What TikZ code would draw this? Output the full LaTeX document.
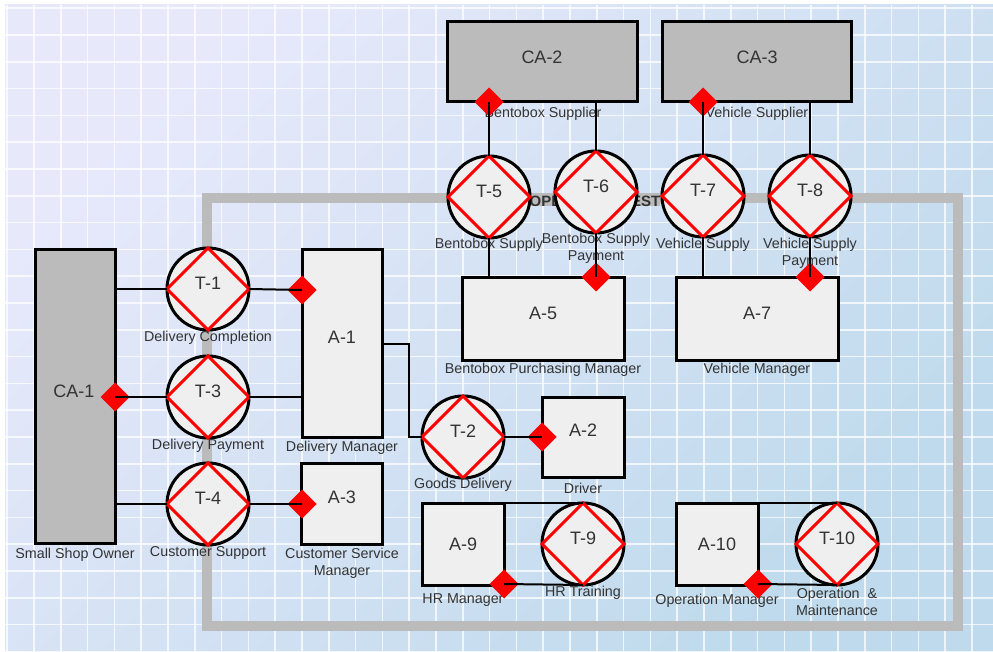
\documentclass[tikz,border=0pt]{standalone}
\usepackage{fontspec}
\setmainfont{Liberation Sans}
\usetikzlibrary{shapes.geometric}
\definecolor{bgA}{RGB}{231,233,251}
\definecolor{bgB}{RGB}{190,218,236}
\definecolor{boxfill}{RGB}{239,239,239}
\definecolor{cafill}{RGB}{187,187,187}
\definecolor{bordcol}{RGB}{187,187,187}
\definecolor{txt}{RGB}{51,51,51}
\definecolor{mkred}{RGB}{255,0,0}
\newcommand\Tc[4]{%
  \node[tcirc] (#1) at (#2,#3) {};
  \draw[rdia] (#1.north) -- (#1.east) -- (#1.south) -- (#1.west) -- cycle;
  \node[ntext] (#1-t) at (#2,#3-6) {#4};
}
\begin{document}
\begin{tikzpicture}[x=1pt,y=-1pt,
  entbox/.style={rectangle, draw=black, line width=3pt, fill=boxfill, inner sep=0pt, outer sep=0pt},
  cabox/.style={entbox, fill=cafill},
  tcirc/.style={circle, draw=black, line width=3pt, fill=boxfill, minimum size=82pt, inner sep=0pt, outer sep=0pt},
  rdia/.style={draw=mkred, line width=3pt, line join=miter},
  reddia/.style={diamond, fill=mkred, minimum width=29pt, minimum height=29pt, inner sep=0pt, outer sep=0pt},
  ntext/.style={text=txt, font=\fontsize{18}{20}\selectfont, inner sep=0pt},
  sub/.style={text=txt, font=\fontsize{14.3}{17}\selectfont, align=center, inner sep=0pt},
  conn/.style={draw=black, line width=2pt},
  gridln/.style={draw=white, line width=1.6pt, opacity=0.75},
  bordline/.style={draw=bordcol, line width=10pt},
]
\useasboundingbox (0,0) rectangle (993,652);
\fill[white] (0,0) rectangle (993,652);
\shade[top color=bgA, bottom color=bgB, shading angle=45] (5,5) rectangle (993,652);
\foreach \i in {0,...,36} \draw[gridln] ({7.2+26.8*\i},5) -- ({7.2+26.8*\i},652);
\foreach \j in {0,...,24} \draw[gridln] (5,{8.2+26.8*\j}) -- (993,{8.2+26.8*\j});

% boundary
\draw[bordline] (207,198) rectangle (958,626);
\node[text=txt, font=\bfseries\fontsize{15}{16}\selectfont, fill=bordcol, inner sep=0pt] (blabel) at (595,201) {OPERATION TEST};

% boxes
\node[cabox, minimum width=80pt, minimum height=293pt] (ca1) at (75,396.5) {};
\node[ntext] (ca1-t) at (74,391) {CA-1};
\node[cabox, minimum width=190pt, minimum height=80pt] (ca2) at (542,62) {};
\node[ntext] (ca2-t) at (542,57) {CA-2};
\node[cabox, minimum width=189pt, minimum height=80pt] (ca3) at (756.5,62) {};
\node[ntext] (ca3-t) at (757,57) {CA-3};
\node[entbox, minimum width=80pt, minimum height=187pt] (a1) at (342,343.5) {};
\node[ntext] (a1-t) at (342,337) {A-1};
\node[entbox, minimum width=82pt, minimum height=80pt] (a2) at (583,437) {};
\node[ntext] (a2-t) at (583,430) {A-2};
\node[entbox, minimum width=81pt, minimum height=81pt] (a3) at (342,504) {};
\node[ntext] (a3-t) at (342,497) {A-3};
\node[entbox, minimum width=162pt, minimum height=82pt] (a5) at (543,319) {};
\node[ntext] (a5-t) at (543,313) {A-5};
\node[entbox, minimum width=162pt, minimum height=82pt] (a7) at (757,319) {};
\node[ntext] (a7-t) at (757,313) {A-7};
\node[entbox, minimum width=82pt, minimum height=82pt] (a9) at (463,544) {};
\node[ntext] (a9-t) at (463,544) {A-9};
\node[entbox, minimum width=82pt, minimum height=82pt] (a10) at (717,544) {};
\node[ntext] (a10-t) at (717,544) {A-10};

% transaction circles
\Tc{t1}{208}{289}{T-1}
\Tc{t3}{208}{397}{T-3}
\Tc{t4}{208}{504}{T-4}
\Tc{t2}{463}{437}{T-2}
\Tc{t5}{489}{197}{T-5}
\Tc{t6}{596}{192}{T-6}
\Tc{t7}{703}{196}{T-7}
\Tc{t8}{810}{196}{T-8}
\Tc{t9}{583}{544}{T-9}
\Tc{t10}{837}{544}{T-10}

% sub labels
\node[sub] (l-ca1) at (75,555) {Small Shop Owner};
\node[sub] (l-t1) at (208,338) {Delivery Completion};
\node[sub] (l-t3) at (208,446) {Delivery Payment};
\node[sub] (l-t4) at (208,553) {Customer Support};
\node[sub] (l-a1) at (342,448) {Delivery Manager};
\node[sub] (l-a3) at (342,563.5) {Customer Service\\Manager};
\node[sub] (l-t2) at (463,485) {Goods Delivery};
\node[sub] (l-a2) at (583,488) {Driver};
\node[sub] (l-ca2) at (543,114) {Bentobox Supplier};
\node[sub] (l-ca3) at (757,114) {Vehicle Supplier};
\node[sub] (l-t5) at (489,245) {Bentobox Supply};
\node[sub] (l-t6) at (596,248.5) {Bentobox Supply\\Payment};
\node[sub] (l-t7) at (703,245) {Vehicle Supply};
\node[sub] (l-t8) at (810,253.5) {Vehicle Supply\\Payment};
\node[sub] (l-a5) at (543,370) {Bentobox Purchasing Manager};
\node[sub] (l-a7) at (757,370) {Vehicle Manager};
\node[sub] (l-a9) at (463,600) {HR Manager};
\node[sub] (l-t9) at (583,593) {HR Training};
\node[sub] (l-a10) at (717,601) {Operation Manager};
\node[sub] (l-t10) at (837,601.5) {Operation~~\&\\Maintenance};

% red markers
\node[reddia] (d-ca1) at (115,397) {};
\node[reddia] (d-a1) at (302,290) {};
\node[reddia] (d-a3) at (302,504) {};
\node[reddia] (d-a2) at (542,437) {};
\node[reddia] (d-ca2) at (489,102) {};
\node[reddia] (d-ca3) at (703,102) {};
\node[reddia] (d-a5) at (596,277) {};
\node[reddia] (d-a7) at (810,277) {};
\node[reddia] (d-a9) at (504,584) {};
\node[reddia] (d-a10) at (758,584) {};

% connectors
\coordinate (bend) at (409,343.5);
\draw[conn] (ca1.east |- t1.west) -- (t1.west);
\draw[conn] (t1.east) -- (d-a1.center);
\draw[conn] (d-ca1.center) -- (t3.west);
\draw[conn] (t3.east) -- (a1.west |- t3.east);
\draw[conn] (ca1.east |- t4.west) -- (t4.west);
\draw[conn] (t4.east) -- (d-a3.center);
\draw[conn] (a1.east) -- (bend) |- (t2.west);
\draw[conn] (t2.east) -- (d-a2.center);
\draw[conn] (d-ca2.center) -- (t5.north);
\draw[conn] (ca2.south -| t6.north) -- (t6.north);
\draw[conn] (d-ca3.center) -- (t7.north);
\draw[conn] (ca3.south -| t8.north) -- (t8.north);
\draw[conn] (t5.south) -- (a5.north -| t5.south);
\draw[conn] (t6.south) -- (d-a5.center);
\draw[conn] (t7.south) -- (a7.north -| t7.south);
\draw[conn] (t8.south) -- (d-a7.center);
\draw[conn] (a9.north east) -- (t9.north);
\draw[conn] (d-a9.center) -- (t9.south);
\draw[conn] (a10.north east) -- (t10.north);
\draw[conn] (d-a10.center) -- (t10.south);
\end{tikzpicture}
\end{document}
